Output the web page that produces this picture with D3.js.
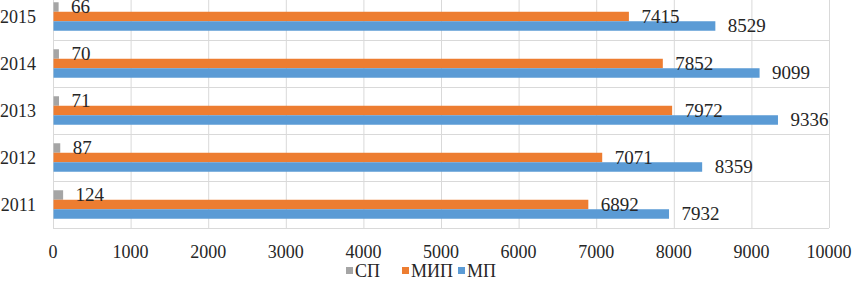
<!DOCTYPE html>
<html><head><meta charset="utf-8"><script src="https://cdn.jsdelivr.net/npm/d3@7"></script></head>
<body style="margin:0">
<div id="c"></div>
<script>
const years = ["2015", "2014", "2013", "2012", "2011"];
const seriesNames = ["СП", "МИП", "МП"];
const spValues = [66, 70, 71, 87, 124];
const mipValues = [7415, 7852, 7972, 7071, 6892];
const mpValues = [8529, 9099, 9336, 8359, 7932];
const xTicks = [0, 1000, 2000, 3000, 4000, 5000, 6000, 7000, 8000, 9000, 10000];
const colors = ["#a5a5a5", "#ed7d31", "#5b9bd5"];

const textColor = "#262626";
const fontName = "Liberation Serif";

const seriesValues = [spValues, mipValues, mpValues];
const rows = years.map((y, i) => ({
  year: y,
  values: seriesNames.map((s, j) => ({ key: s, value: seriesValues[j][i], idx: j }))
}));

const svg = d3.select("#c").append("svg")
  .attr("width", 852)
  .attr("height", 288);

const x = d3.scaleLinear().domain([0, 10000]).range([53, 829]);
const y = d3.scaleBand().domain(years).range([-7, 228]);
const inner = d3.scaleBand().domain(seriesNames)
  .range([0, y.bandwidth()])
  .paddingOuter(0.975)
  .paddingInner(0);

// gridlines
svg.append("g")
  .selectAll("line")
  .data(xTicks)
  .enter()
  .append("line")
  .attr("x1", d => x(d) + 0.5)
  .attr("x2", d => x(d) + 0.5)
  .attr("y1", -7)
  .attr("y2", 228)
  .attr("stroke", "#d9d9d9")
  .attr("stroke-width", 1);

const bounds = years.map(d => y(d)).concat([y(years[years.length - 1]) + y.bandwidth()]);
svg.append("g")
  .selectAll("line")
  .data(bounds)
  .enter()
  .append("line")
  .attr("x1", 53)
  .attr("x2", 829)
  .attr("y1", d => Math.round(d) + 0.5)
  .attr("y2", d => Math.round(d) + 0.5)
  .attr("stroke", "#d9d9d9")
  .attr("stroke-width", 1);

// bars
const groups = svg.selectAll(".grp")
  .data(rows)
  .enter()
  .append("g")
  .attr("transform", d => `translate(0,${y(d.year)})`);

groups.selectAll("rect")
  .data(d => d.values)
  .enter()
  .append("rect")
  .attr("x", x(0) + 0.5)
  .attr("y", d => inner(d.key))
  .attr("width", d => x(d.value) - x(0))
  .attr("height", inner.bandwidth())
  .attr("fill", d => colors[d.idx]);

groups.selectAll("text")
  .data(d => d.values)
  .enter()
  .append("text")
  .attr("x", d => x(d.value) + 13)
  .attr("y", d => inner(d.key) + inner.bandwidth() / 2 + 6)
  .attr("font-family", fontName)
  .attr("font-size", 19)
  .attr("fill", textColor)
  .text(d => d.value);

// y labels
svg.append("g")
  .selectAll("text")
  .data(years)
  .enter()
  .append("text")
  .attr("x", 36)
  .attr("y", d => y(d) + y.bandwidth() / 2 + 6)
  .attr("text-anchor", "end")
  .attr("font-family", fontName)
  .attr("font-size", 18)
  .attr("fill", textColor)
  .text(d => d);

// x tick labels
svg.append("g")
  .selectAll("text")
  .data(xTicks)
  .enter()
  .append("text")
  .attr("x", d => x(d))
  .attr("y", 258)
  .attr("text-anchor", "middle")
  .attr("font-family", fontName)
  .attr("font-size", 18)
  .attr("fill", textColor)
  .text(d => d);

// legend
const legendX = [346, 402, 458];
const legend = svg.append("g");
seriesNames.forEach((s, i) => {
  legend.append("rect")
    .attr("x", legendX[i])
    .attr("y", 267)
    .attr("width", 7)
    .attr("height", 7)
    .attr("fill", colors[i]);
  legend.append("text")
    .attr("x", legendX[i] + 9)
    .attr("y", 277)
    .attr("font-family", fontName)
    .attr("font-size", 18)
    .attr("fill", textColor)
    .text(s);
});
</script>
</body></html>
